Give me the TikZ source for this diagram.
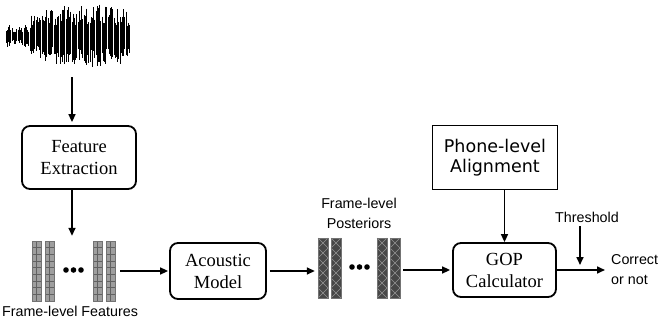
\documentclass[tikz,border=0pt]{standalone}
\usepackage{fontspec}
\setmainfont{Liberation Serif}
\newfontfamily\arialfont{Liberation Sans}
\newfontfamily\verdfont{DejaVu Sans}
\usetikzlibrary{arrows.meta}

\tikzset{
  procbox/.style={draw=black, line width=1.8pt, rounded corners=8pt, align=center,
    inner sep=0pt, font=\fontsize{18.5}{22}\selectfont},
  alignbox/.style={draw=black, line width=1.2pt, align=center, inner sep=0pt,
    font=\verdfont\fontsize{17.5}{20}\selectfont},
  lbl/.style={align=center, inner sep=0pt, font=\arialfont\fontsize{14.3}{20}\selectfont},
  group/.style={inner sep=0pt, draw=none},
  flow/.style={line width=1.6pt, -{Triangle[length=8pt,width=7pt]}},
  wavestroke/.style={line width=1pt, black},
  featfill/.style={fill=black!38},
  featgrid/.style={draw=black!62, line width=0.55pt},
  featedge/.style={draw=black!55, line width=0.9pt},
  postfill/.style={fill=black!72},
  postgrid/.style={draw=black!42, line width=0.6pt},
  postedge/.style={draw=black!55, line width=0.9pt}
}

\begin{document}
\begin{tikzpicture}[x=1pt, y=-1pt]
  \useasboundingbox (0,0) rectangle (670,326);

  % speech signal
  \node[group, minimum width=125pt, minimum height=70pt] (wave) at (67.5,35) {};
  \pgfmathsetseed{1234}
  \foreach \x in {6,7.2,...,130} {
    \pgfmathsetmacro\wenv{ifthenelse(\x<29, 11, 20+13*sin((\x-29)*1.5))}
    \pgfmathsetmacro\wtop{36-\wenv*(0.35+0.65*rnd)}
    \pgfmathsetmacro\wbot{36+\wenv*(0.35+0.65*rnd)}
    \draw[wavestroke] (\x,\wtop) -- (\x,\wbot);
  }

  % processing blocks
  \node[procbox, minimum width=114pt, minimum height=63pt] (fe) at (79,157.5) {Feature\\Extraction};
  \node[procbox, minimum width=96pt, minimum height=56pt] (am) at (218,271) {Acoustic\\Model};
  \node[procbox, minimum width=103pt, minimum height=54pt] (gop) at (504.5,270) {GOP\\Calculator};
  \node[alignbox, minimum width=125pt, minimum height=64pt] (pa) at (495,157.5) {Phone-level\\Alignment};

  % frame-level features
  \node[group, minimum width=84pt, minimum height=60pt] (feat) at (74,271) {};
  \foreach \bx in {32,45,93,106} {
    \fill[featfill] (\bx,241) rectangle ++(9,60);
    \foreach \r in {1,...,8}
      \draw[featgrid] (\bx,241+\r*6.67) -- ++(9,0);
    \draw[featgrid] (\bx+4.5,241) -- ++(0,60);
    \draw[featedge] (\bx,241) rectangle ++(9,60);
  }
  \foreach \dx in {66,73.5,81}
    \fill (\dx,270) circle (2.8);
  \node[lbl] (featlbl) at (70,311) {Frame-level Features};

  % frame-level posteriors
  \node[group, minimum width=82pt, minimum height=60pt] (post) at (359,268) {};
  \foreach \bx in {318,331,377,390} {
    \fill[postfill] (\bx,238) rectangle ++(10,60);
    \foreach \r in {0,...,5} {
      \draw[postgrid] (\bx,238+\r*10) -- ++(10,10);
      \draw[postgrid] (\bx+10,238+\r*10) -- ++(-10,10);
    }
    \draw[postedge] (\bx,238) rectangle ++(10,60);
  }
  \foreach \dx in {352,359.5,367}
    \fill (\dx,267) circle (2.8);
  \node[lbl] (postlbl) at (359,213) {Frame-level\\Posteriors};

  % decision
  \node[lbl] (thr) at (587,217) {Threshold};
  \node[lbl, align=left, anchor=west] (out) at (611,270) {Correct\\or not};
  \coordinate (thrend) at (580,265);

  % connections
  \draw[flow, shorten <=7pt, shorten >=3pt] ([xshift=4.5pt]wave.south) -- ([xshift=-7pt]fe.north);
  \draw[flow, shorten >=5pt] ([xshift=-7pt]fe.south) -- ([xshift=-2pt]feat.north);
  \draw[flow, shorten <=4pt, shorten >=1pt] (feat.east) -- (feat.east -| am.west);
  \draw[flow, shorten <=3pt, shorten >=3pt] (am.east) -- (am.east -| post.west);
  \draw[flow, shorten <=3pt, shorten >=2pt] (post.east |- gop.west) -- (gop.west);
  \draw[flow] (pa.south -| gop.north) -- (gop.north);
  \draw[flow, shorten >=6pt] (gop.east) -- (out.west);
  \draw[flow, shorten <=4pt] ([xshift=-7pt]thr.south) -- (thrend);
\end{tikzpicture}
\end{document}
